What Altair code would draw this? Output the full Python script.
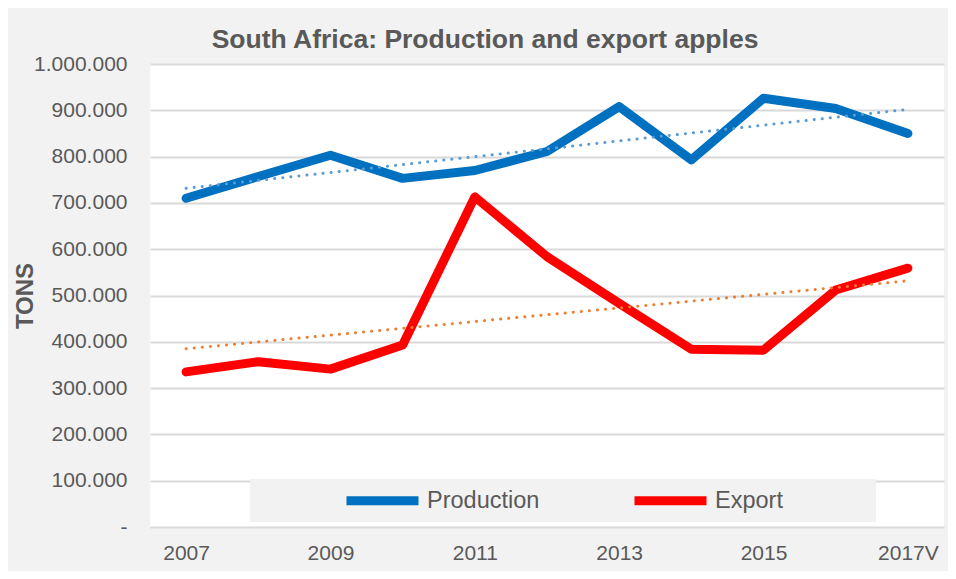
import json
import pandas as pd
import altair as alt

years = ["2007", "2008", "2009", "2010", "2011", "2012", "2013", "2014", "2015", "2016", "2017V"]
production = [710000, 757000, 803000, 753000, 770000, 811000, 908000, 793000, 926000, 904000, 850000]
export = [335000, 357000, 341000, 393000, 713000, 584000, 483000, 384000, 382000, 512000, 559000]
series_names = ["Production", "Export"]
series_colors = ["#0070C0", "#FF0000"]
trend_colors = ["#5B9BD5", "#ED7D31"]
y_ticks = [0, 100000, 200000, 300000, 400000, 500000, 600000, 700000, 800000, 900000, 1000000]
title_text = "South Africa: Production and export apples"
y_title = "TONS"

rows = []
for i, yr in enumerate(years):
    rows.append({"idx": i, "year": yr, "series": "Production", "value": production[i]})
    rows.append({"idx": i, "year": yr, "series": "Export", "value": export[i]})
df = pd.DataFrame(rows)

W, H = 794, 463
FONT = "Liberation Sans"
TXT = "#595959"
PANEL = "#f2f2f2"

x_label_expr = json.dumps(years) + "[datum.value]"
y_label_expr = ("datum.value == 0 ? '-\u00a0\u00a0' : "
                "replace(format(datum.value, ',d'), regexp(',', 'g'), '.')")

x_enc = alt.X(
    "idx:Q",
    scale=alt.Scale(domain=[-0.5, len(years) - 0.5], nice=False, zero=False),
    axis=alt.Axis(values=list(range(0, len(years), 2)), labelExpr=x_label_expr,
                  title=None, grid=False, domain=False, ticks=False,
                  labelFontSize=21, labelColor=TXT, labelFont=FONT, labelPadding=15),
)
y_enc = alt.Y(
    "value:Q",
    scale=alt.Scale(domain=[0, 1000000], nice=False),
    axis=alt.Axis(values=y_ticks, labelExpr=y_label_expr, title=y_title,
                  titleFontSize=24, titleFont=FONT, titleColor=TXT, titleFontWeight="bold",
                  titleX=-125, titleY=H / 2, titleAngle=270, titleBaseline="middle",
                  titleAlign="center",
                  grid=True, gridColor="#d9d9d9", gridWidth=2, domain=False, ticks=False,
                  labelFontSize=21, labelColor=TXT, labelFont=FONT, labelPadding=23),
)

box = alt.Chart(pd.DataFrame({"box": [0]})).mark_rect(color=PANEL).encode(
    x=alt.value(100), x2=alt.value(726), y=alt.value(415), y2=alt.value(458)
)

lines = alt.Chart(df).mark_line(strokeWidth=9, strokeCap="round", strokeJoin="round").encode(
    x=x_enc,
    y=y_enc,
    color=alt.Color(
        "series:N",
        scale=alt.Scale(domain=series_names, range=series_colors),
        legend=alt.Legend(title=None, orient="none", legendX=192, legendY=396,
                          direction="horizontal", symbolType="stroke", symbolSize=5184,
                          symbolStrokeWidth=9, labelFontSize=23.5, labelFont=FONT,
                          labelColor=TXT, labelOffset=4, columnPadding=76, padding=0),
    ),
    detail="series:N",
)

trends = []
for name, col in zip(series_names, trend_colors):
    t = (
        alt.Chart(df)
        .transform_filter(alt.datum.series == name)
        .transform_regression("idx", "value")
        .mark_line(color=col, strokeWidth=3, strokeDash=[0.1, 8], strokeCap="round")
        .encode(x="idx:Q", y="value:Q")
    )
    trends.append(t)

chart = (
    alt.layer(box, lines, *trends)
    .properties(
        width=W, height=H,
        padding={"left": 142, "top": 56, "right": 4, "bottom": 44},
        autosize=alt.AutoSizeParams(type="none"),
        title=alt.TitleParams(title_text, fontSize=26.5, fontWeight="bold", color=TXT,
                              font=FONT, anchor="middle", dx=-62, offset=0),
    )
    .configure(background=PANEL)
    .configure_view(fill="white", strokeWidth=0)
)

chart.save("out.html", embed_options={"renderer": "svg", "actions": False})
